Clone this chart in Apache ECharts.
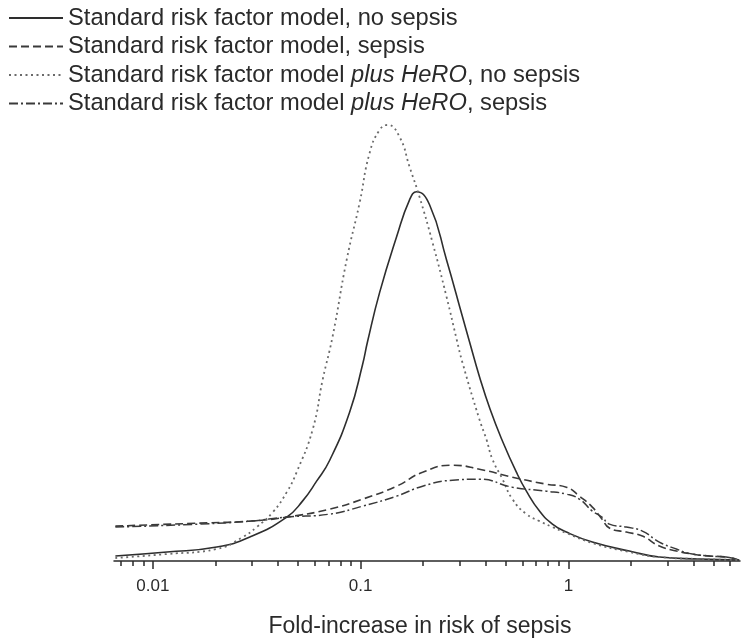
<!DOCTYPE html>
<html>
<head>
<meta charset="utf-8">
<script src="https://cdn.jsdelivr.net/npm/echarts@6/dist/echarts.min.js"></script>
<style>
html,body{margin:0;padding:0;background:#fff;}
#chart{width:750px;height:643px;}
</style>
</head>
<body>
<div id="chart"></div>
<script>
// Series names
var seriesNames = [
  'Standard risk factor model, no sepsis',
  'Standard risk factor model, sepsis',
  'Standard risk factor model plus HeRO, no sepsis',
  'Standard risk factor model plus HeRO, sepsis'
];

// [fold-increase, density (arbitrary units)]
var stdNoSepsis = [
  [0.0066, 5], [0.0117, 9], [0.0203, 14], [0.0293, 24], [0.0441, 44], [0.0525, 60],
  [0.0614, 80], [0.071, 101], [0.0885, 149], [0.1022, 197], [0.108, 220], [0.1234, 269],
  [0.149, 325], [0.172, 362], [0.186, 370], [0.2147, 357], [0.259, 302],
  [0.309, 245], [0.334, 220], [0.373, 185], [0.42, 152], [0.482, 120], [0.562, 89],
  [0.628, 70], [0.726, 50], [0.838, 37], [0.978, 29], [1.304, 19], [1.965, 10],
  [2.74, 4], [4.26, 2], [6.64, 1]
];
var stdSepsis = [
  [0.0066, 35], [0.0168, 38], [0.0293, 40], [0.0441, 44], [0.071, 52], [0.1022, 62],
  [0.149, 75], [0.1987, 89], [0.277, 96], [0.373, 92], [0.538, 84], [0.784, 77],
  [0.978, 74], [1.13, 65], [1.304, 54], [1.45, 42], [1.575, 33], [1.9, 29], [2.27, 25],
  [2.74, 15], [3.31, 10], [3.95, 7], [4.76, 5], [5.75, 4], [6.64, 1]
];
var heroNoSepsis = [
  [0.0066, 3], [0.0117, 7], [0.0203, 12], [0.0271, 24], [0.0316, 34], [0.0378, 49],
  [0.0441, 69], [0.0492, 89], [0.0588, 132], [0.0657, 182], [0.0733, 225], [0.0857, 302],
  [0.0989, 359], [0.1105, 409], [0.1234, 432], [0.1349, 437], [0.154, 425], [0.172, 395],
  [0.192, 365], [0.222, 319], [0.259, 265], [0.29, 222], [0.309, 199], [0.373, 142],
  [0.403, 122], [0.431, 102], [0.482, 82], [0.538, 62], [0.628, 47], [0.726, 40],
  [0.838, 34], [0.978, 28], [1.304, 18], [1.965, 9], [2.74, 4], [4.26, 2], [6.64, 1]
];
var heroSepsis = [
  [0.0066, 34], [0.0168, 37], [0.0293, 40], [0.0441, 44], [0.071, 47], [0.1022, 55],
  [0.149, 65], [0.1987, 75], [0.277, 81], [0.373, 82], [0.538, 74], [0.784, 70],
  [0.978, 67], [1.13, 62], [1.304, 50], [1.45, 44], [1.575, 37], [1.9, 34], [2.27, 30],
  [2.74, 19], [3.31, 12], [3.95, 7], [4.76, 5], [5.75, 4], [6.64, 1]
];

// Axis ticks
var majorTicks = [0.01, 0.1, 1];
var minorTicks = [0.007, 0.008, 0.009, 0.02, 0.03, 0.04, 0.05, 0.06, 0.07, 0.08, 0.09,
  0.2, 0.3, 0.4, 0.5, 0.6, 0.7, 0.8, 0.9, 2, 3, 4, 5, 6];
var xMin = 0.0065, xMax = 6.7;

var FONT = '"Liberation Sans", Arial, sans-serif';
var INK = '#2a2a2a';

var chart = echarts.init(document.getElementById('chart'));

function mkSeries(name, data, type, color, width) {
  return {
    name: name, type: 'line', data: data, smooth: 0.5, symbol: 'none',
    xAxisIndex: 0, yAxisIndex: 0,
    lineStyle: { color: color, width: width, type: type },
    itemStyle: { color: color },
    z: 3
  };
}

var option = {
  animation: false,
  backgroundColor: '#fff',
  grid: { left: 114, right: 10, top: 112, bottom: 81 },
  legend: {
    orient: 'vertical', left: 3, top: 1,
    itemWidth: 54, itemHeight: 14, itemGap: 4.5,
    itemStyle: { opacity: 0 },
    data: seriesNames,
    textStyle: {
      fontFamily: FONT, fontSize: 23.7, color: INK,
      rich: { i: { fontFamily: FONT, fontSize: 23.7, color: INK, fontStyle: 'italic' } }
    },
    formatter: function (name) {
      if (name.indexOf('plus HeRO') >= 0) {
        var parts = name.split('plus HeRO');
        return parts[0] + '{i|plus HeRO}' + parts[1];
      }
      return name;
    }
  },
  xAxis: [{
    type: 'log', min: xMin, max: xMax, logBase: 10,
    axisLine: { show: true, lineStyle: { color: INK, width: 1.5 } },
    axisTick: { show: true, length: 5, inside: false, customValues: minorTicks,
      lineStyle: { color: INK, width: 1.5 } },
    axisLabel: { show: true, customValues: majorTicks, margin: 17,
      fontFamily: FONT, fontSize: 17, color: INK,
      formatter: function (v) { return String(+v.toPrecision(3)); } },
    splitLine: { show: false },
    name: 'Fold-increase in risk of sepsis', nameLocation: 'middle', nameGap: 54,
    nameTextStyle: { fontFamily: FONT, fontSize: 23, color: INK, padding: [0, 14, 0, 0] }
  }, {
    type: 'log', min: xMin, max: xMax, logBase: 10, position: 'bottom',
    axisLine: { show: false },
    axisTick: { show: true, length: 8, inside: false, customValues: majorTicks,
      lineStyle: { color: INK, width: 1.5 } },
    axisLabel: { show: false },
    splitLine: { show: false }
  }],
  yAxis: {
    type: 'value', min: 0, max: 450, show: false,
    splitLine: { show: false }
  },
  series: [
    mkSeries(seriesNames[0], stdNoSepsis, 'solid', '#2e2e2e', 1.6),
    mkSeries(seriesNames[1], stdSepsis, [8, 4], '#3a3a3a', 1.6),
    mkSeries(seriesNames[2], heroNoSepsis, [2, 3.5], '#6a6a6a', 1.8),
    mkSeries(seriesNames[3], heroSepsis, [9, 3, 2, 3], '#3a3a3a', 1.5)
  ]
};
chart.setOption(option);
</script>
</body>
</html>
